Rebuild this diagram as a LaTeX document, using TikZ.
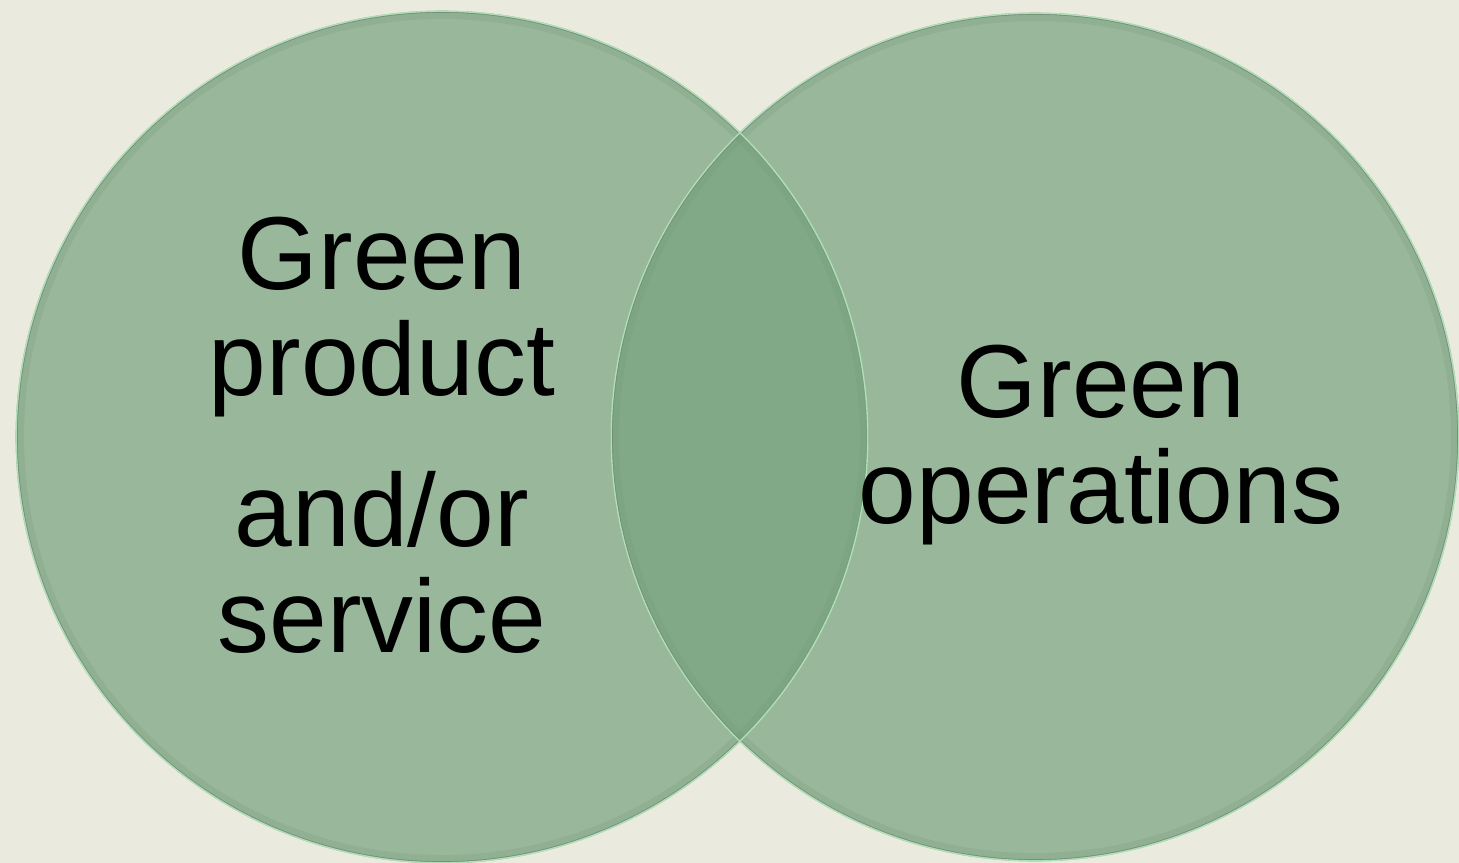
\documentclass[tikz,border=0pt]{standalone}
\usepackage{fontspec}
\setmainfont{Liberation Sans}
\usepackage{tikz}

\definecolor{paper}{RGB}{234,234,223}
\definecolor{leaf}{RGB}{120,164,127}
\definecolor{rim}{RGB}{110,142,114}
\definecolor{mint}{RGB}{176,222,184}

\begin{document}
\begin{tikzpicture}[
        x=0.01cm, y=-0.01cm,
        venn/.style={circle, inner sep=0pt, outer sep=0pt, fill=leaf, fill opacity=0.7,
            draw=rim, draw opacity=0.9, line width=0.6pt},
        band/.style={rim, line width=0.06cm, draw opacity=0.18},
        word/.style={align=center, inner sep=0pt, anchor=north,
            font=\fontsize{29.5}{30.2}\selectfont}
    ]
        \fill[paper] (0,0) rectangle (1459,863);
        \useasboundingbox (0,0) rectangle (1459,863);

        \node[venn, minimum size=8.5cm] (prod) at (442,437) {};
        \node[venn, minimum size=8.46cm] (oper) at (1035,437) {};

        % soft inner edge and light rim on the outside
        \draw[band] (prod.center) circle (421);
        \draw[band] (oper.center) circle (419);
        \draw[mint, line width=0.4pt] (prod.center) circle (425.8);
        \draw[mint, line width=0.4pt] (oper.center) circle (423.8);

        \node[word] (prodtext) at (382,216) {Green\\product\\[0.45cm]and/or\\service};
        \node[word] (opertext) at (1101,344) {Green\\operations};
    \end{tikzpicture}
\end{document}
